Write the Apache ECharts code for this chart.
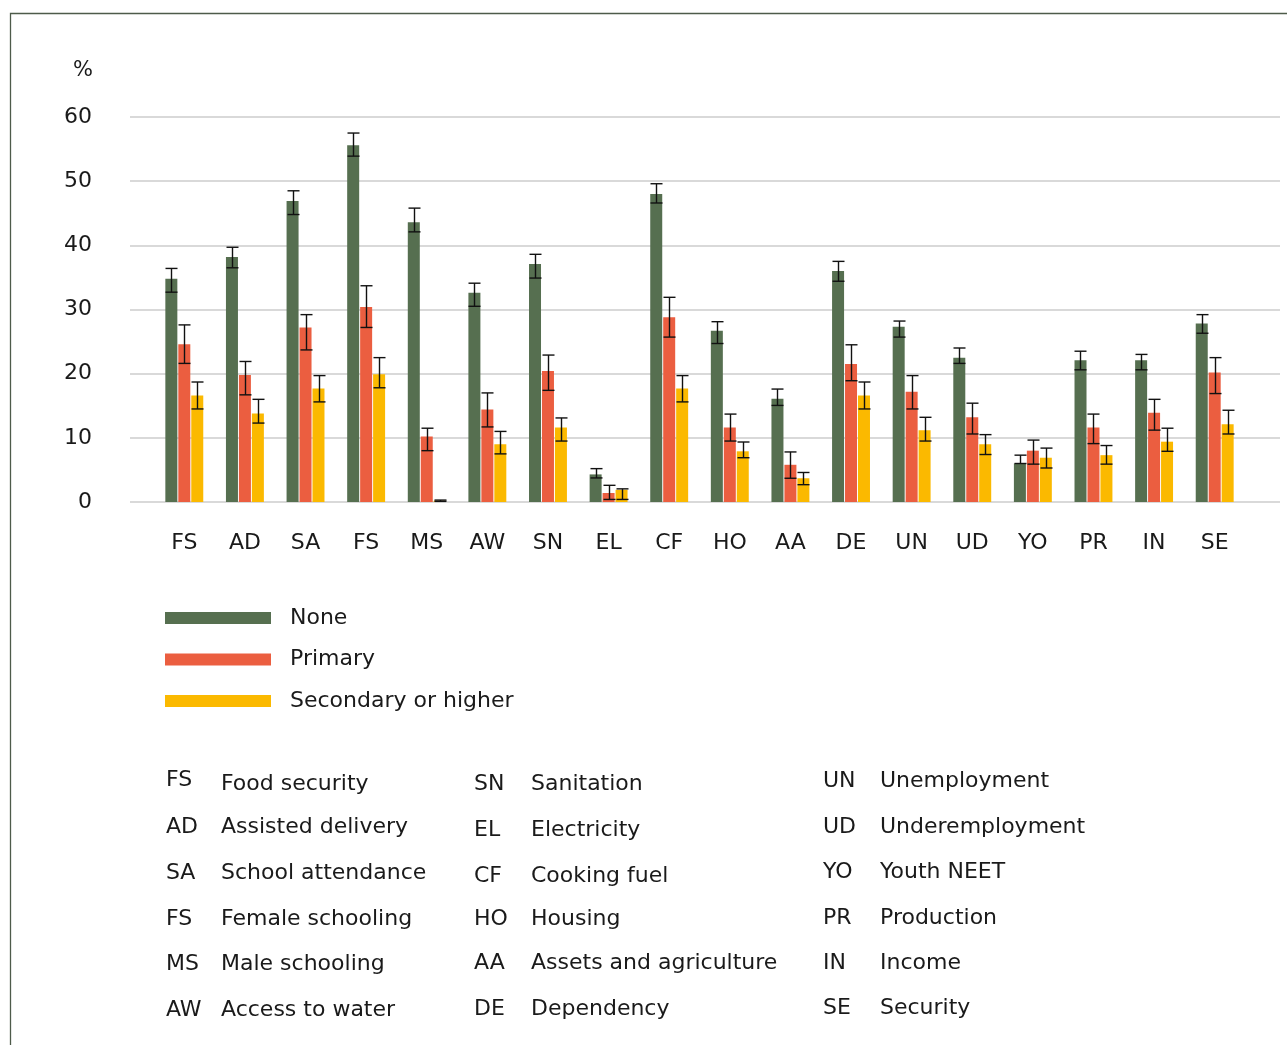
<!DOCTYPE html>
<html>
<head>
<meta charset="utf-8">
<style>
  html, body { margin: 0; padding: 0; background: #ffffff; }
  #chart { width: 1287px; height: 1045px; }
</style>
<script src="https://cdn.jsdelivr.net/npm/echarts@6/dist/echarts.min.js"></script>
</head>
<body>
<div id="chart"></div>
<script>
// Indicator abbreviations shown along the category axis
const categories = ['FS', 'AD', 'SA', 'FS', 'MS', 'AW', 'SN', 'EL', 'CF', 'HO', 'AA', 'DE', 'UN', 'UD', 'YO', 'PR', 'IN', 'SE'];

// Share deprived (%) by education level, with confidence bounds
const none        = [34.8, 38.2, 46.9, 55.6, 43.6, 32.6, 37.1, 4.3, 48.0, 26.7, 16.1, 36.0, 27.3, 22.5, 6.0, 22.1, 22.1, 27.8];
const noneLo      = [32.7, 36.5, 44.8, 53.9, 42.1, 30.5, 34.9, 3.75, 46.6, 24.7, 15.05, 34.4, 25.7, 21.6, 6.0, 20.6, 20.6, 26.3];
const noneHi      = [36.4, 39.7, 48.5, 57.5, 45.8, 34.1, 38.6, 5.2, 49.6, 28.1, 17.6, 37.5, 28.2, 24.0, 7.3, 23.5, 23.0, 29.2];

const primary     = [24.6, 19.8, 27.2, 30.4, 10.2, 14.4, 20.4, 1.4, 28.8, 11.6, 5.8, 21.5, 17.2, 13.2, 8.0, 11.6, 13.9, 20.2];
const primaryLo   = [21.6, 16.7, 23.7, 27.2, 8.0, 11.7, 17.4, 0.4, 25.7, 9.5, 3.7, 18.9, 14.5, 10.6, 5.9, 9.1, 11.2, 16.9];
const primaryHi   = [27.6, 21.9, 29.2, 33.7, 11.5, 17.0, 22.9, 2.6, 31.9, 13.7, 7.8, 24.5, 19.7, 15.4, 9.65, 13.7, 16.0, 22.5];

const secondary   = [16.6, 13.8, 17.7, 19.9, 0.2, 9.0, 11.6, 1.9, 17.7, 7.9, 3.7, 16.6, 11.2, 9.0, 6.9, 7.3, 9.4, 12.1];
const secondaryLo = [14.5, 12.3, 15.6, 17.8, 0.1, 7.5, 9.5, 0.4, 15.6, 6.9, 2.7, 14.5, 9.5, 7.4, 5.3, 5.9, 7.9, 10.6];
const secondaryHi = [18.7, 16.0, 19.7, 22.5, 0.3, 11.0, 13.1, 2.05, 19.7, 9.35, 4.6, 18.7, 13.2, 10.5, 8.4, 8.8, 11.5, 14.3];

const seriesNames = ['None', 'Primary', 'Secondary or higher'];
const colors = ['#566F50', '#EB5E40', '#FBB900'];

// Abbreviation key, three columns
const keyAbbr1 = ['FS', 'AD', 'SA', 'FS', 'MS', 'AW'];
const keyName1 = ['Food security', 'Assisted delivery', 'School attendance', 'Female schooling', 'Male schooling', 'Access to water'];
const keyAbbr2 = ['SN', 'EL', 'CF', 'HO', 'AA', 'DE'];
const keyName2 = ['Sanitation', 'Electricity', 'Cooking fuel', 'Housing', 'Assets and agriculture', 'Dependency'];
const keyAbbr3 = ['UN', 'UD', 'YO', 'PR', 'IN', 'SE'];
const keyName3 = ['Unemployment', 'Underemployment', 'Youth NEET', 'Production', 'Income', 'Security'];

const FONT = '"DejaVu Sans", sans-serif';
const TXT = '#1a1a1a';

const chart = echarts.init(document.getElementById('chart'), null, { renderer: 'canvas' });

// Geometry of the plot area
const plotTop = 117;
const plotHeight = 385;
const barW = 12;
const barStep = 13;

function errorSeries(k, lo, hi) {
  return {
    type: 'custom',
    name: seriesNames[k] + ' CI',
    xAxisIndex: 1,
    yAxisIndex: 1,
    z: 5,
    silent: true,
    data: lo.map((v, i) => [i, v, hi[i]]),
    encode: { x: 0, y: [1, 2] },
    renderItem: function (params, api) {
      const idx = api.value(0);
      const pLo = api.coord([idx, api.value(1)]);
      const pHi = api.coord([idx, api.value(2)]);
      const x = Math.round(pLo[0] + (k - 1) * barStep) + 0.5;
      const half = barW / 2;
      const style = { stroke: '#111111', lineWidth: 1.4 };
      return {
        type: 'group',
        children: [
          { type: 'line', shape: { x1: x, y1: pLo[1], x2: x, y2: pHi[1] }, style: style },
          { type: 'line', shape: { x1: x - half, y1: pLo[1], x2: x + half, y2: pLo[1] }, style: style },
          { type: 'line', shape: { x1: x - half, y1: pHi[1], x2: x + half, y2: pHi[1] }, style: style }
        ]
      };
    }
  };
}

function keyColumn(abbr, names, xA, xN, ys, yN) {
  const out = [];
  abbr.forEach((a, i) => {
    out.push({ type: 'text', left: xA, top: ys[i], style: { text: a, font: '22px ' + FONT, fill: TXT } });
    out.push({ type: 'text', left: xN, top: yN[i], style: { text: names[i], font: '22px ' + FONT, fill: TXT } });
  });
  return out;
}

const option = {
  animation: false,
  backgroundColor: '#ffffff',
  textStyle: { fontFamily: FONT },
  grid: [
    { left: 130, right: 7, top: plotTop, height: plotHeight },
    { left: 154, width: 1091, top: plotTop, height: plotHeight }
  ],
  xAxis: [
    { type: 'value', gridIndex: 0, show: false, min: 0, max: 1 },
    {
      type: 'category', gridIndex: 1, data: categories,
      axisLine: { show: false }, axisTick: { show: false },
      axisLabel: { color: TXT, fontSize: 22, fontFamily: FONT, margin: 30, interval: 0 }
    }
  ],
  yAxis: [
    {
      type: 'value', gridIndex: 0, min: 0, max: 60, interval: 10,
      axisLine: { show: false }, axisTick: { show: false },
      axisLabel: { color: TXT, fontSize: 22, fontFamily: FONT, margin: 38 },
      splitLine: { lineStyle: { color: '#d9d9d9', width: 2 } }
    },
    {
      type: 'value', gridIndex: 1, min: 0, max: 60, interval: 10, show: false,
      splitLine: { show: false }
    }
  ],
  legend: {
    data: seriesNames,
    orient: 'vertical',
    left: 165,
    top: 607,
    padding: 0,
    icon: 'rect',
    itemWidth: 106,
    itemHeight: 12,
    itemGap: 19.5,
    selectedMode: false,
    textStyle: { color: TXT, fontSize: 22, fontFamily: FONT, lineHeight: 22, padding: [0, 0, 0, 14] }
  },
  series: [
    { type: 'bar', name: seriesNames[0], data: none, xAxisIndex: 1, yAxisIndex: 1, barWidth: barW, barGap: '8%', itemStyle: { color: colors[0] } },
    { type: 'bar', name: seriesNames[1], data: primary, xAxisIndex: 1, yAxisIndex: 1, barWidth: barW, barGap: '8%', itemStyle: { color: colors[1] } },
    { type: 'bar', name: seriesNames[2], data: secondary, xAxisIndex: 1, yAxisIndex: 1, barWidth: barW, barGap: '8%', itemStyle: { color: colors[2] } },
    errorSeries(0, noneLo, noneHi),
    errorSeries(1, primaryLo, primaryHi),
    errorSeries(2, secondaryLo, secondaryHi)
  ],
  graphic: [
    // frame around the figure
    { type: 'rect', shape: { x: 10.5, y: 13.5, width: 1400, height: 1200 }, style: { fill: 'none', stroke: '#4e5b4a', lineWidth: 1.3 }, silent: true },
    { type: 'text', left: 73, top: 60, style: { text: '%', font: '21px ' + FONT, fill: TXT } }
  ]
    .concat(keyColumn(keyAbbr1, keyName1, 166, 221, [769, 816, 862, 908, 953, 999], [773, 816, 862, 908, 953, 999]))
    .concat(keyColumn(keyAbbr2, keyName2, 474, 531, [773, 819, 865, 908, 952, 998], [773, 819, 865, 908, 952, 998]))
    .concat(keyColumn(keyAbbr3, keyName3, 823, 880, [770, 816, 861, 907, 952, 997], [770, 816, 861, 907, 952, 997]))
};

chart.setOption(option);
</script>
</body>
</html>
